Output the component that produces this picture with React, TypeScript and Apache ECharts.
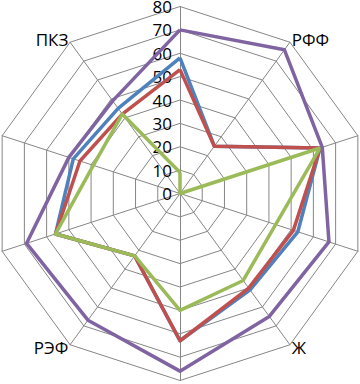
import React, { useEffect, useRef } from "react";
import * as echarts from "echarts";

// Axes listed clockwise from the top spoke
const categories = ["", "РФФ", "", "", "Ж", "", "РЭФ", "", "", "ПКЗ"];
const seriesNames = ["Ряд 1", "Ряд 2", "Ряд 3", "Ряд 4"];
const blueValues = [58, 25, 63, 53, 51, 63, 33, 56, 48, 45];
const redValues = [53, 25, 63, 51, 50, 63, 33, 56, 45, 42];
const greenValues = [9, 0, 63, 43, 46, 50, 33, 56, 39, 42];
const purpleValues = [70, 76, 64, 67, 65, 76, 67, 69, 50, 49];
const colors = ["#4F81BD", "#C0504D", "#9BBB59", "#8064A2"];
const axisMax = 80;
const tickStep = 10;

// ECharts places radar indicators counter-clockwise, so reorder to go clockwise
const toCCW = <T,>(arr: T[]): T[] => [arr[0], ...arr.slice(1).reverse()];

export default function App() {
  const ref = useRef<HTMLDivElement>(null);
  useEffect(() => {
    if (!ref.current) return;
    const chart = echarts.init(ref.current, undefined, { renderer: "svg" });
    const cats = toCCW(categories);
    const all = [blueValues, redValues, greenValues, purpleValues];
    chart.setOption({
      animation: false,
      radar: {
        center: [180, 193.5],
        radius: 187,
        shape: "polygon",
        splitNumber: axisMax / tickStep,
        startAngle: 90,
        indicator: cats.map((name, i) => ({
          name,
          min: 0,
          max: axisMax,
          ...(i === 0 ? { axisLabel: { show: true } } : {}),
        })),
        axisName: {
          color: "#000",
          fontFamily: "Open Sans",
          fontSize: 17,
        },
        nameGap: 3,
        axisLabel: {
          show: false,
          color: "#000",
          fontFamily: "Open Sans",
          fontSize: 17,
          lineHeight: 14,
          margin: 8,
        },
        axisTick: { show: false },
        axisLine: { lineStyle: { color: "#868686", width: 1 } },
        splitLine: { lineStyle: { color: "#868686", width: 1 } },
        splitArea: { show: false },
      },
      series: [
        {
          type: "radar",
          symbol: "none",
          data: all.map((vals, i) => ({
            name: seriesNames[i],
            value: toCCW(vals),
            lineStyle: { color: colors[i], width: 3.5 },
            itemStyle: { color: colors[i] },
          })),
        },
      ],
    });
    return () => chart.dispose();
  }, []);
  return (
    <div
      ref={ref}
      style={{ position: "fixed", left: 0, top: 0, width: 360, height: 384, background: "#fff" }}
    />
  );
}
